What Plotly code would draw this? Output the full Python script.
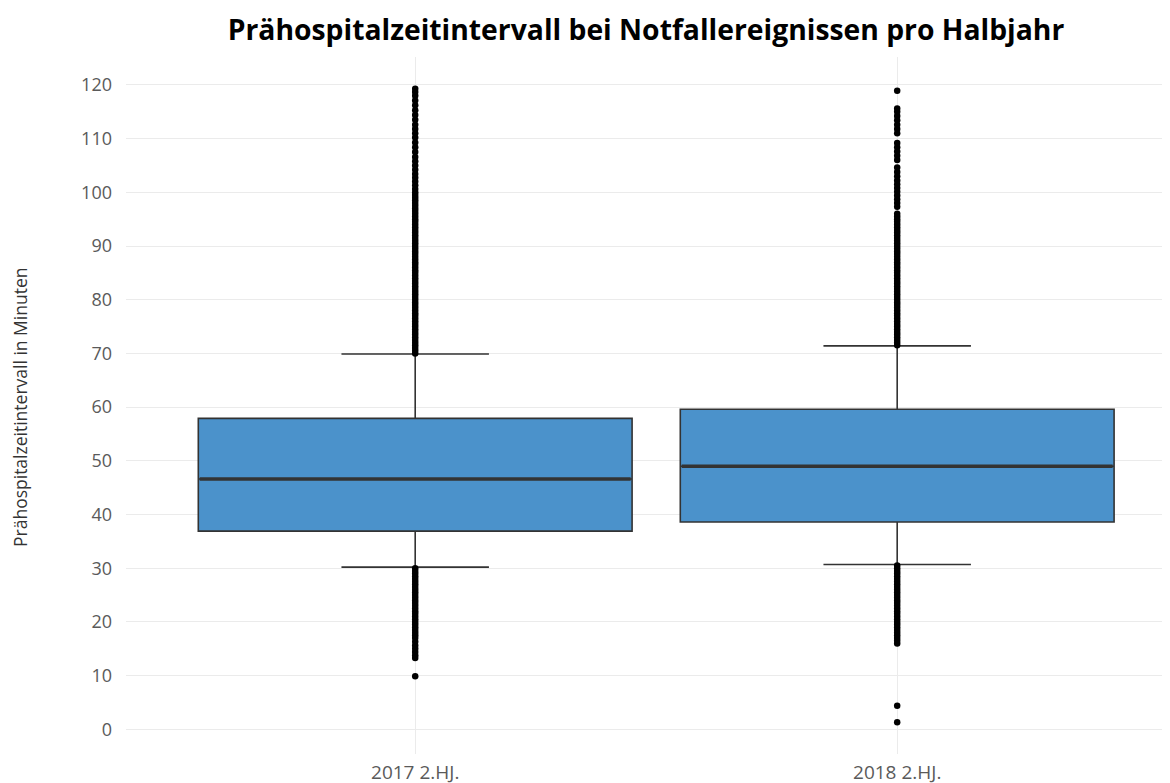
import plotly.graph_objects as go

categories = ["2017 2.HJ.", "2018 2.HJ."]
q1 = [36.9, 38.6]
median = [46.6, 49.0]
q3 = [57.9, 59.6]
lower_whisker = [30.2, 30.7]
upper_whisker = [69.9, 71.4]

outliers_2017 = [
    9.9, 13.3, 13.8, 14.4, 15.0, 15.6, 16.3,
    17.0, 17.5, 18.0, 18.5, 19.0, 19.5, 20.0, 20.5, 21.0, 21.5, 22.0, 22.5,
    23.0, 23.5, 24.0, 24.5, 25.0, 25.5, 26.0, 26.5, 27.0, 27.5, 28.0, 28.5,
    29.0, 29.5, 30.0,
    70.0, 70.5, 71.0, 71.5, 72.0, 72.5, 73.0, 73.5, 74.0, 74.5, 75.0, 75.5,
    76.0, 76.5, 77.0, 77.5, 78.0, 78.5, 79.0, 79.5, 80.0, 80.5, 81.0, 81.5,
    82.0, 82.5, 83.0, 83.5, 84.0, 84.5, 85.0, 85.5, 86.0, 86.5, 87.0, 87.5,
    88.0, 88.5, 89.0, 89.5, 90.0, 90.5, 91.0, 91.5, 92.0, 92.5, 93.0, 93.5,
    94.0, 94.5, 95.0, 95.5, 96.0, 96.5, 97.0, 97.5, 98.0, 98.5, 99.0, 99.5,
    100.0, 100.6, 101.3, 102.0, 102.7, 103.4, 104.2, 105.0, 105.8, 106.6,
    107.5, 108.4, 109.3, 110.2, 111.0, 111.8, 112.6, 113.5, 114.4, 115.3,
    116.2, 117.1, 118.0, 118.7, 119.3,
]
outliers_2018 = [
    1.3, 4.4,
    16.0, 16.5, 17.0, 17.5, 18.0, 18.5, 19.0, 19.5, 20.0, 20.5, 21.0, 21.5,
    22.0, 22.5, 23.0, 23.5, 24.0, 24.5, 25.0, 25.5, 26.0, 26.5, 27.0, 27.5,
    28.0, 28.5, 29.0, 29.5, 30.0, 30.5,
    71.5, 72.0, 72.5, 73.0, 73.5, 74.0, 74.5, 75.0, 75.5, 76.0, 76.5, 77.0,
    77.5, 78.0, 78.5, 79.0, 79.5, 80.0, 80.5, 81.0, 81.5, 82.0, 82.5, 83.0,
    83.5, 84.0, 84.5, 85.0, 85.5, 86.0, 86.5, 87.0, 87.5, 88.0, 88.5, 89.0,
    89.5, 90.0, 90.5, 91.0, 91.5, 92.0, 92.5, 93.0, 93.5, 94.0, 94.5, 95.0,
    95.5, 96.0, 97.3, 98.0, 98.7, 99.4, 100.1, 100.8, 101.5, 102.2, 103.0,
    103.8, 104.6, 106.0, 106.8, 107.6, 108.4, 109.2, 111.0, 111.8, 112.6,
    113.4, 114.2, 115.0, 115.6, 118.9,
]
outliers = [outliers_2017, outliers_2018]

y_ticks = [0, 10, 20, 30, 40, 50, 60, 70, 80, 90, 100, 110, 120]

BOX_FILL = "#4b92cb"
LINE = "#333333"
BOX_WIDTH = 0.9
TICK_COLOR = "#5a5a5a"

fig = go.Figure()
positions = list(range(len(categories)))

for i, cat in enumerate(categories):
    fig.add_trace(go.Box(
        x=[positions[i]], q1=[q1[i]], median=[median[i]], q3=[q3[i]],
        lowerfence=[lower_whisker[i]], upperfence=[upper_whisker[i]],
        width=BOX_WIDTH, whiskerwidth=0.34,
        fillcolor=BOX_FILL, line=dict(color=LINE, width=1.6),
        boxpoints=False, showlegend=False, hoverinfo="skip",
    ))
    # thicker median line
    fig.add_trace(go.Scatter(
        x=[positions[i] - BOX_WIDTH / 2 + 0.003, positions[i] + BOX_WIDTH / 2 - 0.003],
        y=[median[i], median[i]], mode="lines",
        line=dict(color=LINE, width=3.5), showlegend=False, hoverinfo="skip",
    ))
    fig.add_trace(go.Scatter(
        x=[positions[i]] * len(outliers[i]), y=outliers[i], mode="markers",
        marker=dict(color="black", size=6.5), showlegend=False, hoverinfo="skip",
    ))

# page body adds an 8px offset; margins compensate
L, R, T, B = 118, 8, 49, 37
W, H = 1170, 783
plot_w, plot_h = W - L - R, H - T - B

fig.update_layout(
    width=W, height=H,
    plot_bgcolor="white", paper_bgcolor="white",
    margin=dict(l=L, r=R, t=T, b=B),
    font=dict(family="Open Sans, sans-serif", color=TICK_COLOR),
    title=dict(
        text="<b>Prähospitalzeitintervall bei Notfallereignissen pro Halbjahr</b>",
        x=638 / W, xanchor="center", y=1 - 22 / H, yanchor="middle",
        font=dict(family="Open Sans, sans-serif", size=28.3, color="black"),
    ),
    xaxis=dict(
        range=[-0.6, 1.566], tickvals=positions, ticktext=categories,
        showgrid=True, gridcolor="#ebebeb", gridwidth=1.2, zeroline=False,
        showline=False, ticks="", tickfont=dict(size=19, color=TICK_COLOR),
        ticklabelstandoff=5, automargin=False,
    ),
    yaxis=dict(
        range=[-4.6, 125.2], tickvals=y_ticks,
        showgrid=True, gridcolor="#ebebeb", gridwidth=1.2, zeroline=False,
        showline=False, ticks="", tickfont=dict(size=18, color=TICK_COLOR),
        ticklabelstandoff=13, automargin=False,
    ),
    annotations=[dict(
        text="Prähospitalzeitintervall in Minuten",
        xref="paper", yref="paper", x=(12 - L) / plot_w, y=(746 - 399) / plot_h,
        xanchor="center", yanchor="middle", textangle=-90, showarrow=False,
        font=dict(family="Open Sans, sans-serif", size=17.5, color="#333333"),
    )],
)

fig.write_html("out.html")
